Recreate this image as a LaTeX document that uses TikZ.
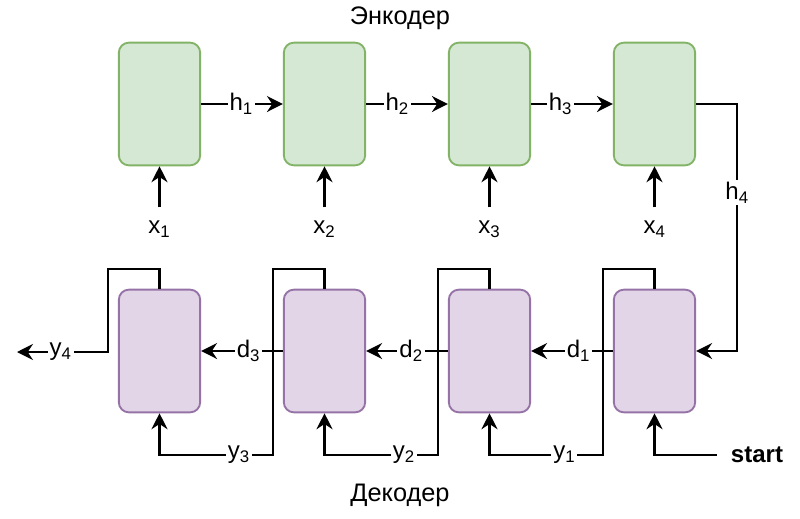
\documentclass[tikz,border=0pt]{standalone}
\usepackage{fontspec}
\setmainfont{Liberation Sans}
\usetikzlibrary{positioning,arrows.meta}

\definecolor{encfill}{HTML}{D5E8D4}
\definecolor{encline}{HTML}{82B366}
\definecolor{decfill}{HTML}{E1D5E7}
\definecolor{decline}{HTML}{9673A6}

\begin{document}
\begin{tikzpicture}[
    x=0.75pt, y=-0.75pt,
    cell/.style={rectangle, rounded corners=7.5pt, line width=1.4pt, minimum width=61pt, minimum height=92pt},
    enc/.style={cell, draw=encline, fill=encfill},
    dec/.style={cell, draw=decline, fill=decfill},
    link/.style={draw, line width=1.6pt, -{Stealth[length=12pt, width=12pt, inset=4pt]}},
    lab/.style={fill=white, inner sep=1.5pt, font=\fontsize{18}{21}\selectfont},
    xlab/.style={font=\fontsize{18}{21}\selectfont, text height=15pt, inner ysep=4.5pt},
    title/.style={font=\fontsize{19}{22}\selectfont}
]
\useasboundingbox (0,0) rectangle (800,518);

% Define node positions
\node[enc] (enc1) at (159.5,104) {};
\node[enc] (enc2) at (324.5,104) {};
\node[enc] (enc3) at (489.5,104) {};
\node[enc] (enc4) at (654.5,104) {};

\node[dec] (dec4) at (159.5,351) {};
\node[dec] (dec3) at (324.5,351) {};
\node[dec] (dec2) at (489.5,351) {};
\node[dec] (dec1) at (654.5,351) {};

% Add titles
\node[title] (enctitle) at (400,18) {Энкодер};
\node[title] (dectitle) at (400,495) {Декодер};

% Add input labels below encoder
\node[xlab, below=30.75pt of enc1] (x1) {x\textsubscript{1}};
\node[xlab, below=30.75pt of enc2] (x2) {x\textsubscript{2}};
\node[xlab, below=30.75pt of enc3] (x3) {x\textsubscript{3}};
\node[xlab, below=30.75pt of enc4] (x4) {x\textsubscript{4}};

\node[font=\fontsize{18}{21}\selectfont\bfseries, inner xsep=10.5pt] (start) at (757,455) {start};
\coordinate (out) at (17,352);

% Draw encoder edges
\draw[link] (x1) -- (enc1);
\draw[link] (x2) -- (enc2);
\draw[link] (x3) -- (enc3);
\draw[link] (x4) -- (enc4);
\draw[link] (enc1) -- node[lab, pos=0.49] {h\textsubscript{1}} (enc2);
\draw[link] (enc2) -- node[lab, pos=0.38] {h\textsubscript{2}} (enc3);
\draw[link] (enc3) -- node[lab, pos=0.36] {h\textsubscript{3}} (enc4);
\draw[link] (enc4.east) -- ++(41,0) |- node[lab, pos=0.18] {h\textsubscript{4}} (dec1.east);

% Draw decoder edges
\draw[link] (dec1) -- node[lab, pos=0.42] {d\textsubscript{1}} (dec2);
\draw[link] (dec2) -- node[lab, pos=0.45] {d\textsubscript{2}} (dec3);
\draw[link] (dec3) -- node[lab, pos=0.42] {d\textsubscript{3}} (dec4);
\draw[link] (start) -| (dec1.south);

% Outputs fed back into the next step
\draw[link] (dec1.north) -- ++(0,-20) -| (603,455) -| node[lab, pos=0.17] {y\textsubscript{1}} (dec2.south);
\draw[link] (dec2.north) -- ++(0,-20) -| (438,455) -| node[lab, pos=0.15] {y\textsubscript{2}} (dec3.south);
\draw[link] (dec3.north) -- ++(0,-20) -| (273,455) -| node[lab, pos=0.15] {y\textsubscript{3}} (dec4.south);
\draw[link] (dec4.north) -- ++(0,-20) -| (108,352) -- node[lab, pos=0.52] {y\textsubscript{4}} (out);

\end{tikzpicture}
\end{document}
